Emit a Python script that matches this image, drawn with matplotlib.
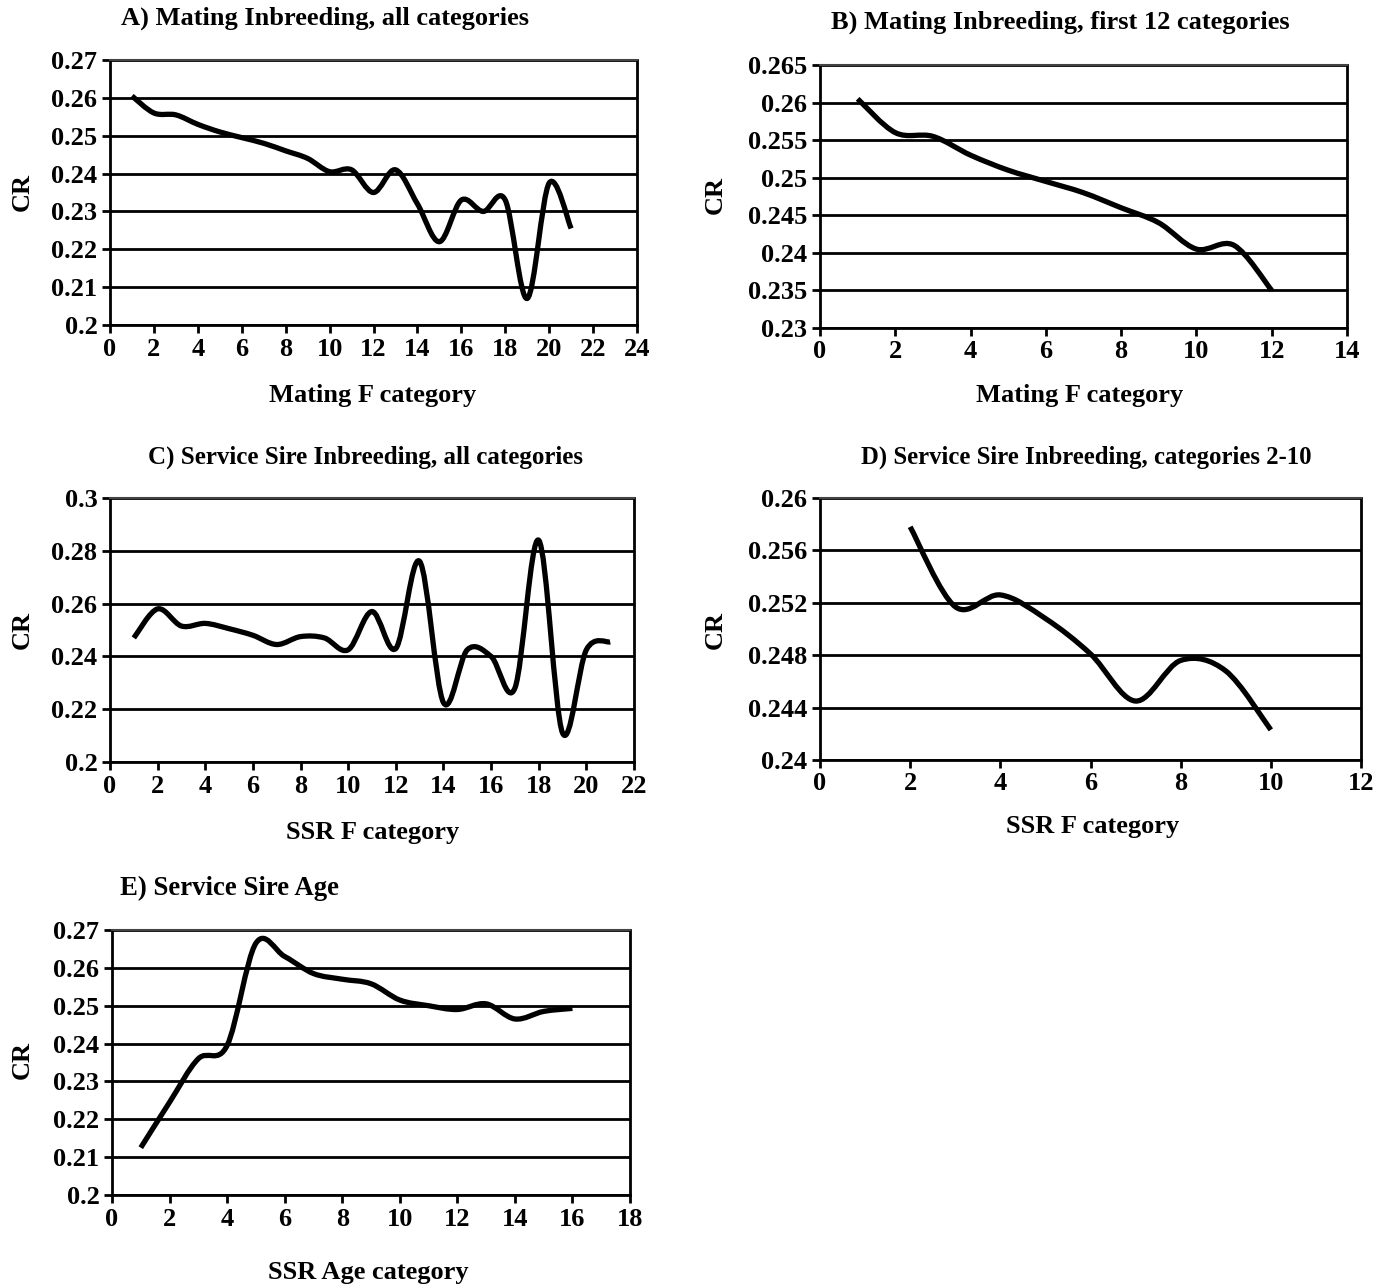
import numpy as np
import matplotlib
matplotlib.use("Agg")
import matplotlib.pyplot as plt
from matplotlib.path import Path
from matplotlib.patches import PathPatch

plt.rcParams['font.family'] = ['Liberation Serif', 'DejaVu Serif']
plt.rcParams['font.weight'] = 'bold'

# data
a_x = list(range(1, 22))
a_cr = [0.2605, 0.256, 0.2555, 0.253, 0.251, 0.2495, 0.248, 0.246, 0.244, 0.2405, 0.241,
        0.235, 0.241, 0.232, 0.222, 0.233, 0.230, 0.233, 0.207, 0.2375, 0.2255]
b_x = list(range(1, 13))
b_cr = [0.2605, 0.256, 0.2555, 0.253, 0.251, 0.2495, 0.248, 0.246, 0.244, 0.2405, 0.241, 0.235]
c_x = list(range(1, 22))
c_cr = [0.247, 0.258, 0.2515, 0.2525, 0.2505, 0.248, 0.2445, 0.2475, 0.247, 0.2425, 0.257,
        0.243, 0.276, 0.2225, 0.2425, 0.240, 0.228, 0.284, 0.211, 0.2425, 0.2455]
d_x = list(range(2, 11))
d_cr = [0.2578, 0.2517, 0.2526, 0.2508, 0.2481, 0.2445, 0.2476, 0.2468, 0.2423]
e_x = list(range(1, 17))
e_cr = [0.2125, 0.2245, 0.236, 0.2395, 0.2665, 0.263, 0.2585, 0.257, 0.2558, 0.2515,
        0.250, 0.249, 0.2505, 0.2465, 0.2485, 0.2493]

W, H = 1384, 1287
fig = plt.figure(figsize=(W / 100, H / 100), dpi=100)


def smooth_path(x, y):
    # excel-style smoothed line: catmull-rom segments as cubic beziers
    x = np.asarray(x, float)
    y = np.asarray(y, float)
    verts = [(x[0], y[0])]
    codes = [Path.MOVETO]
    n = len(x)
    for i in range(n - 1):
        x0, y0 = (x[i - 1], y[i - 1]) if i > 0 else (x[i], y[i])
        x3, y3 = (x[i + 2], y[i + 2]) if i + 2 < n else (x[i + 1], y[i + 1])
        c1 = (x[i] + (x[i + 1] - x0) / 6, y[i] + (y[i + 1] - y0) / 6)
        c2 = (x[i + 1] - (x3 - x[i]) / 6, y[i + 1] - (y3 - y[i]) / 6)
        verts += [c1, c2, (x[i + 1], y[i + 1])]
        codes += [Path.CURVE4] * 3
    return Path(verts, codes)


def panel(box, x, y, xlim, xstep, ylim, ystep, title, tsize, tpos, xlabel, xlpos, ylpos):
    l, r, t, b = box
    ax = fig.add_axes([l / W, 1 - b / H, (r - l) / W, (b - t) / H])
    ax.set_xlim(*xlim)
    ax.set_ylim(*ylim)
    ax.set_xticks(np.arange(xlim[0], xlim[1] + xstep / 2, xstep))
    yt = np.arange(ylim[0], ylim[1] + ystep / 2, ystep)
    ax.set_yticks(yt)
    ax.set_yticklabels([('%.3f' % v).rstrip('0').rstrip('.') for v in yt])
    ax.yaxis.grid(True, color='black', lw=2)
    ax.set_axisbelow(True)
    for s in ['left', 'bottom', 'right']:
        ax.spines[s].set_linewidth(2)
        ax.spines[s].set_color('black')
    ax.spines['top'].set_linewidth(1.5)
    ax.spines['top'].set_color('#444444')
    ax.tick_params(direction='out', length=6, width=2, labelsize=19, pad=3)
    ax.add_patch(PathPatch(smooth_path(x, y), fill=False, lw=3.8, color='black',
                           capstyle='butt', joinstyle='round', zorder=3))
    fig.text(tpos[0] / W, 1 - tpos[1] / H, title, ha='center', va='center', fontsize=tsize)
    fig.text(xlpos[0] / W, 1 - xlpos[1] / H, xlabel, ha='center', va='center', fontsize=19)
    fig.text(ylpos[0] / W, 1 - ylpos[1] / H, 'CR', ha='center', va='center', fontsize=19,
             rotation=90)
    return ax


panel((110, 637, 60, 325), a_x, a_cr, (0, 24), 2, (0.2, 0.27), 0.01,
      'A) Mating Inbreeding, all categories', 19, (325, 18), 'Mating F category', (373, 395),
      (22, 192))
panel((820, 1347, 65, 328), b_x, b_cr, (0, 14), 2, (0.23, 0.265), 0.005,
      'B) Mating Inbreeding, first 12 categories', 19, (1060, 22), 'Mating F category',
      (1080, 395), (715, 195))
panel((110, 634, 498, 762), c_x, c_cr, (0, 22), 2, (0.2, 0.3), 0.02,
      'C) Service Sire Inbreeding, all categories', 18, (365, 457), 'SSR F category', (373, 833),
      (22, 630))
panel((820, 1361, 498, 760), d_x, d_cr, (0, 12), 2, (0.24, 0.26), 0.004,
      'D) Service Sire Inbreeding, categories 2-10', 17.8, (1086, 457), 'SSR F category',
      (1093, 826), (715, 630))
panel((112, 630, 930, 1195), e_x, e_cr, (0, 18), 2, (0.2, 0.27), 0.01,
      'E) Service Sire Age', 19.3, (229, 888), 'SSR Age category', (368, 1273), (22, 1060))

fig.savefig('out.png', dpi=100)
